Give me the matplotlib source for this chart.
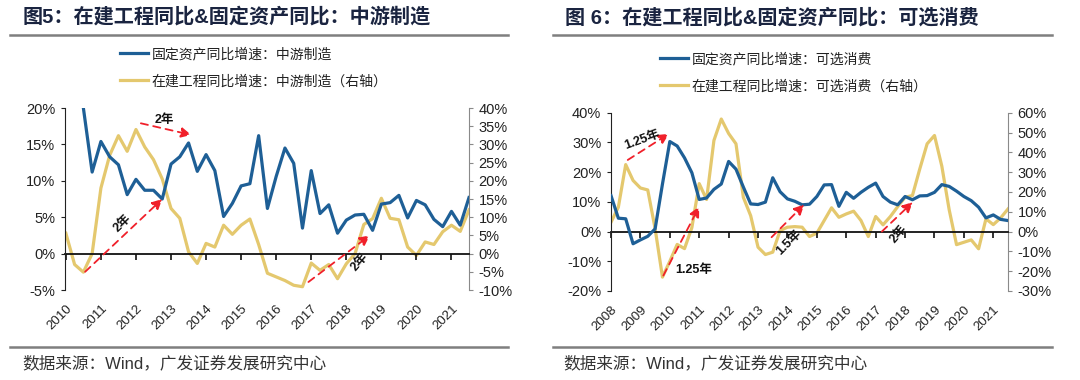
import numpy as np
import matplotlib
matplotlib.use("Agg")
import matplotlib.pyplot as plt
from matplotlib.lines import Line2D
from matplotlib.ticker import FuncFormatter

CJK = ["Noto Sans CJK SC", "DejaVu Sans"]
MIX = ["Liberation Sans", "Noto Sans CJK SC", "DejaVu Sans"]
plt.rcParams["font.family"] = MIX

BLUE = "#1E5F96"
YELLOW = "#E4C86E"
RED = "#F0202A"

# ---- panel 1: mid-stream manufacturing (quarterly) ----
mid_fai_start = 2010.5
mid_fai = [20.0, 11.2, 15.4, 13.3, 12.2, 8.1, 10.2, 8.7, 8.7, 7.5, 12.3, 13.3,
           15.2, 11.3, 13.6, 11.4, 5.1, 6.9, 9.3, 9.6, 16.2, 6.2, 10.6, 14.5,
           12.4, 3.5, 11.4, 5.5, 6.7, 2.8, 4.6, 5.3, 5.4, 3.2, 6.8, 7.0,
           8.0, 4.9, 7.3, 6.7, 4.7, 3.7, 5.8, 3.9, 7.7]
mid_cip_start = 2010.0
mid_cip = [5.6, -3.0, -5.1, 0.0, 18.0, 27.0, 32.4, 28.1, 34.1, 29.3, 25.8, 20.5,
           12.4, 9.7, 0.5, -2.7, 2.8, 1.8, 7.8, 5.3, 7.8, 9.5, 2.5, -5.4,
           -6.4, -7.4, -8.7, -9.1, -2.6, -4.6, -3.0, -6.9, -2.8, 0.0, 8.0, 9.6,
           15.2, 9.7, 9.3, 1.8, -0.5, 3.2, 2.5, 6.0, 7.8, 6.1, 12.0]
mid_years = list(range(2010, 2022))

# ---- panel 2: discretionary consumption (quarterly) ----
cons_fai_start = 2008.0
cons_fai = [12.1, 4.5, 4.3, -4.1, -2.8, -1.6, 0.9, 16.0, 30.3, 28.8, 24.8, 19.8,
            10.8, 11.3, 14.2, 16.0, 23.6, 21.0, 15.0, 9.3, 9.1, 9.9, 18.1, 13.4,
            11.0, 10.2, 9.0, 9.2, 11.8, 15.7, 15.8, 8.5, 13.2, 11.2, 13.2, 14.9,
            16.3, 11.8, 9.9, 9.0, 11.8, 10.7, 12.0, 12.1, 13.2, 15.8, 15.2, 13.6,
            11.8, 10.4, 8.2, 4.6, 5.6, 4.1, 3.7]
cons_cip_start = 2008.0
cons_cip = [4.7, 12.3, 33.8, 25.8, 22.0, 21.0, 1.5, -23.0, -15.0, -6.5, -8.6, 2.0,
            24.2, 16.2, 46.0, 56.8, 49.5, 44.3, 17.3, 8.0, -7.9, -11.6, -10.4, 0.5,
            2.2, 2.5, 2.2, -2.5, -0.8, 5.6, 12.0, 7.2, 8.9, 10.3, 5.6, -2.5,
            7.6, 3.4, 7.6, 12.6, 17.3, 18.2, 31.6, 44.3, 48.5, 33.0, 11.0, -6.6,
            -5.4, -4.2, -8.7, 6.4, 3.5, 6.9, 11.4]
cons_years = list(range(2008, 2022))

# lag annotations: (x0, y0, x1, y1, text, tx, ty, rotation) in left-axis units
mid_arrows = [
    (2012.14, 17.9, 2013.58, 16.3, "2年", 2012.80, 18.4, 0),
    (2010.55, -2.5, 2012.75, 7.5, "2年", 2011.62, 4.1, 45),
    (2016.92, -3.9, 2018.67, 2.5, "2年", 2018.39, -1.2, 50),
]
cons_arrows = [
    (2008.57, 24.1, 2009.97, 32.9, "1.25年", 2009.05, 30.9, 20),
    (2009.78, -14.8, 2011.00, 8.4, "1.25年", 2010.82, -13.1, 0),
    (2013.46, -1.9, 2014.57, 9.1, "1.5年", 2014.06, -3.6, 45),
    (2017.21, 0.0, 2018.26, 9.9, "2年", 2017.77, -0.8, 50),
]


def quarters(start, n):
    return start + 0.25 * np.arange(n)


def panel(fig, rect, fai, fai_start, cip, cip_start, years, xlim, ylim, y2lim,
          ystep, y2step, arrows, labels, legend_xy):
    ax = fig.add_axes(rect)
    ax2 = ax.twinx()
    l1, = ax.plot(quarters(fai_start, len(fai)), fai, color=BLUE, lw=2.3, zorder=3)
    l2, = ax2.plot(quarters(cip_start, len(cip)), cip, color=YELLOW, lw=2.3, zorder=2)
    ax.set_zorder(ax2.get_zorder() + 1)
    ax.patch.set_visible(False)

    ax.set_xlim(*xlim)
    ax.set_ylim(*ylim)
    ax2.set_ylim(*y2lim)
    ax.set_yticks(np.arange(ylim[0], ylim[1] + 0.1, ystep))
    ax2.set_yticks(np.arange(y2lim[0], y2lim[1] + 0.1, y2step))
    pct = FuncFormatter(lambda v, p: f"{v:.0f}%")
    ax.yaxis.set_major_formatter(pct)
    ax2.yaxis.set_major_formatter(pct)

    for s in ("top", "bottom", "right"):
        ax.spines[s].set_visible(False)
    for s in ("top", "bottom", "left"):
        ax2.spines[s].set_visible(False)
    ax.spines["left"].set_color("#222222")
    ax2.spines["right"].set_color("#8a8a8a")
    ax.tick_params(axis="y", direction="out", length=3, pad=4, labelsize=10.5,
                   colors="#222222")
    ax2.tick_params(axis="y", direction="out", length=3, pad=4, labelsize=10.5,
                    color="#8a8a8a", labelcolor="#222222")

    ax.set_xticks(years)
    ax.set_xticklabels([str(y) for y in years], rotation=45, ha="right",
                       va="top", rotation_mode="anchor")
    ax.tick_params(axis="x", length=0, pad=9, labelsize=9.5, labelcolor="#222222")

    # zero line with year ticks
    zpos = (0 - ylim[0]) / (ylim[1] - ylim[0])
    zx = ax.secondary_xaxis(zpos)
    zx.set_xticks(years)
    zx.set_xticklabels([])
    zx.tick_params(direction="out", length=4, width=1.2, color="#111111")
    zx.spines["bottom"].set_color("#111111")
    zx.spines["bottom"].set_linewidth(1.3)

    for x0, y0, x1, y1, txt, tx, ty, rot in arrows:
        ax.annotate("", xy=(x1, y1), xytext=(x0, y0), zorder=5,
                    arrowprops=dict(arrowstyle="-|>,head_length=0.6,head_width=0.3",
                                    color=RED, lw=1.3, linestyle=(0, (4, 3)),
                                    shrinkA=0, shrinkB=0))
        ax.text(tx, ty, txt, fontsize=9, fontweight="bold", rotation=rot,
                ha="center", va="center", color="#111111", zorder=6)

    fig.legend([l1, l2], labels, loc="upper left", bbox_to_anchor=legend_xy,
               bbox_transform=fig.transFigure, frameon=False,
               prop={"family": CJK, "size": 10}, handlelength=2.0,
               handletextpad=0.3, labelspacing=0.95, borderpad=0,
               borderaxespad=0, labelcolor="#222222")
    return ax


def hline(fig, x0, x1, y):
    W, H = fig.get_size_inches() * fig.dpi
    fig.add_artist(Line2D([x0 / W, x1 / W], [1 - y / H, 1 - y / H],
                          transform=fig.transFigure, color="#7f7f7f", lw=1.8))


def main():
    fig = plt.figure(figsize=(10.8, 3.8), dpi=100)
    W, H = 1080, 380

    panel(fig, [64.8 / W, 1 - 290 / H, (469 - 64.8) / W, (290 - 108) / H],
          mid_fai, mid_fai_start, mid_cip, mid_cip_start, mid_years,
          (2009.97, 2021.5), (-5, 20), (-10, 40), 5, 5, mid_arrows,
          ["固定资产同比增速：中游制造", "在建工程同比增速：中游制造（右轴）"],
          (120 / W, 1 - 47 / H))
    panel(fig, [611 / W, 1 - 291 / H, (1008 - 611) / W, (291 - 112.7) / H],
          cons_fai, cons_fai_start, cons_cip, cons_cip_start, cons_years,
          (2008.0, 2021.5), (-20, 40), (-30, 60), 10, 10, cons_arrows,
          ["固定资产同比增速：可选消费", "在建工程同比增速：可选消费（右轴）"],
          (660 / W, 1 - 52 / H))

    title_kw = dict(fontsize=14.5, fontweight="bold", color="#1a2440", va="center")
    fig.text(23 / W, 1 - 17 / H, "图5：在建工程同比&固定资产同比：中游制造", **title_kw)
    fig.text(565 / W, 1 - 18 / H, "图 6：在建工程同比&固定资产同比：可选消费", **title_kw)

    hline(fig, 10, 508, 35)
    hline(fig, 553, 1052, 35)
    hline(fig, 10, 508, 347)
    hline(fig, 553, 1052, 347)

    foot_kw = dict(fontsize=12, color="#333333", va="center")
    fig.text(22 / W, 1 - 363 / H, "数据来源：Wind，广发证券发展研究中心", **foot_kw)
    fig.text(563 / W, 1 - 363 / H, "数据来源：Wind，广发证券发展研究中心", **foot_kw)

    fig.savefig("out.png", dpi=100, facecolor="white")
    plt.close(fig)


if __name__ == "__main__":
    main()
